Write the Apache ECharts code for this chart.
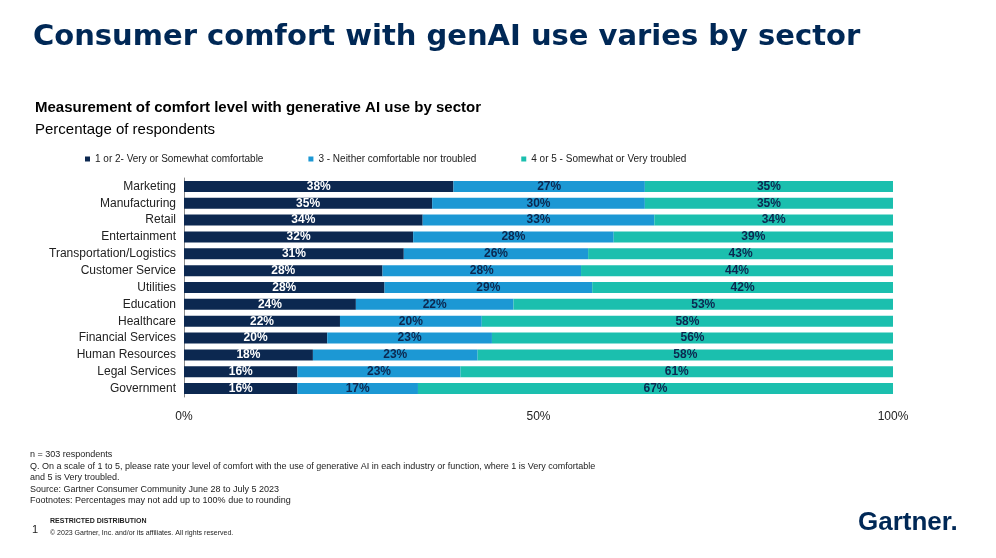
<!DOCTYPE html>
<html lang="en">
<head>
<meta charset="UTF-8">
<title>Consumer comfort with genAI</title>
<style>
html,body{margin:0;padding:0;background:#fff;}
#main{width:996px;height:558px;}
</style>
</head>
<body>
<div id="main"></div>
<script src="https://cdn.jsdelivr.net/npm/echarts@6/dist/echarts.min.js"></script>
<script>
var sectors = ['Marketing','Manufacturing','Retail','Entertainment','Transportation/Logistics','Customer Service','Utilities','Education','Healthcare','Financial Services','Human Resources','Legal Services','Government'];
var comfortable = [38,35,34,32,31,28,28,24,22,20,18,16,16];
var neither = [27,30,33,28,26,28,29,22,20,23,23,23,17];
var troubled = [35,35,34,39,43,44,42,53,58,56,58,61,67];
var seriesNames = ['1 or 2- Very or Somewhat comfortable','3 - Neither comfortable nor troubled','4 or 5 - Somewhat or Very troubled'];
var colors = ['#0c2850','#1c98d4','#1bbfae'];
var font = 'Arial, "Liberation Sans", sans-serif';

// bars are shown as share of each row's total, labels keep the rounded values
var totals = comfortable.map(function (v, i) { return v + neither[i] + troubled[i]; });
function share(arr) {
    return arr.map(function (v, i) { return {value: v * 100 / totals[i], raw: v}; });
}

var chart = echarts.init(document.getElementById('main'));
function mk(i, data, labelColor) {
    return {
        name: seriesNames[i], type: 'bar', stack: 'all', data: share(data),
        barWidth: 11, itemStyle: {color: colors[i]},
        label: {show: true, position: 'inside', color: labelColor,
            formatter: function (p) { return p.data.raw + '%'; },
            fontFamily: font, fontSize: 12, fontWeight: 'bold'}
    };
}
chart.setOption({
    animation: false,
    textStyle: {fontFamily: font},
    title: [
        {text: 'Consumer comfort with genAI use varies by sector', left: 28, top: 18,
         textStyle: {fontSize: 29, fontWeight: 'bold', color: '#002856', fontFamily: '"DejaVu Sans", sans-serif'}},
        {text: 'Measurement of comfort level with generative AI use by sector', left: 30, top: 95,
         textStyle: {fontSize: 15, fontWeight: 'bold', color: '#000'}},
        {text: 'Percentage of respondents', left: 30, top: 117,
         textStyle: {fontSize: 15, fontWeight: 'normal', color: '#000'}}
    ],
    legend: {top: 149, left: 80, itemWidth: 5, itemHeight: 5, itemGap: 45, icon: 'rect',
        textStyle: {fontSize: 10, color: '#222'}},
    grid: {left: 184, right: 103, top: 178, bottom: 161},
    xAxis: {type: 'value', min: 0, max: 100, interval: 50,
        axisLabel: {formatter: '{value}%', fontSize: 12, color: '#222', margin: 14},
        splitLine: {show: false}, axisLine: {show: false}, axisTick: {show: false}},
    yAxis: {type: 'category', data: sectors, inverse: true,
        axisLine: {show: true, lineStyle: {color: '#888'}}, axisTick: {show: false},
        axisLabel: {fontSize: 12, color: '#222', margin: 8}},
    tooltip: {trigger: 'axis'},
    series: [mk(0, comfortable, '#fff'), mk(1, neither, '#0c2850'), mk(2, troubled, '#0c2850')],
    graphic: [
        {type: 'text', left: 30, top: 449, style: {
            text: 'n = 303 respondents\nQ. On a scale of 1 to 5, please rate your level of comfort with the use of generative AI in each industry or function, where 1 is Very comfortable\nand 5 is Very troubled.\nSource: Gartner Consumer Community June 28 to July 5 2023\nFootnotes: Percentages may not add up to 100% due to rounding',
            fontSize: 9, lineHeight: 11.5, fill: '#222', fontFamily: font}},
        {type: 'text', left: 50, top: 518, style: {text: 'RESTRICTED DISTRIBUTION', fontSize: 7, fontWeight: 'bold', fill: '#222', fontFamily: font}},
        {type: 'text', left: 50, top: 530, style: {text: '© 2023 Gartner, Inc. and/or its affiliates. All rights reserved.', fontSize: 7, fill: '#222', fontFamily: font}},
        {type: 'text', left: 32, top: 524, style: {text: '1', fontSize: 11, fill: '#222', fontFamily: font}},
        {type: 'text', left: 858, top: 510, style: {text: 'Gartner.', fontSize: 26, fontWeight: 'bold', fill: '#002856', fontFamily: font}}
    ]
});
</script>
</body>
</html>
